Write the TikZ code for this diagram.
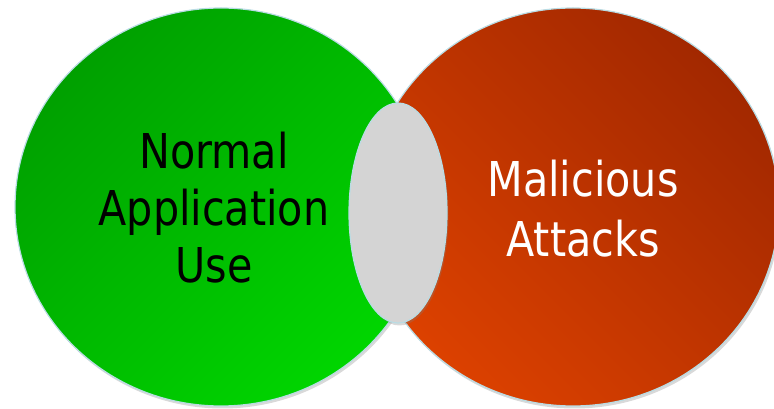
\documentclass[tikz,border=0pt]{standalone}
\usepackage{fontspec}
\setmainfont[FakeStretch=0.86]{DejaVu Sans}
\usetikzlibrary{shapes,shadows}

\definecolor{rim}{HTML}{B9DCE4}
\definecolor{greenDark}{HTML}{00A000}
\definecolor{greenLight}{HTML}{00D600}
\definecolor{redDark}{HTML}{A22800}
\definecolor{redLight}{HTML}{DC4100}
\definecolor{overlapGray}{HTML}{D4D4D4}

\tikzset{
  blob/.style={shape=ellipse,draw=rim,line width=1.2pt,inner sep=0pt,
    drop shadow={opacity=0.3,shadow xshift=1.5pt,shadow yshift=-2.5pt}},
  bigtext/.style={align=center,anchor=base,font=\fontsize{48}{57}\selectfont},
}

\begin{document}
\begin{tikzpicture}[x=1pt,y=1pt]
\useasboundingbox (0,0) rectangle (774,409);
\clip (0,0) rectangle (774,409);

% the two sets
\node[blob,minimum width=412pt,minimum height=398pt,top color=greenDark,bottom color=greenLight,shading angle=45] (normal) at (221,202) {};
\node[blob,minimum width=412pt,minimum height=398pt,top color=redDark,bottom color=redLight,shading angle=-45] (malicious) at (573,202) {};
% where they meet
\node[blob,minimum width=98pt,minimum height=220pt,fill=overlapGray] (overlap) at (398,196) {};

\node[bigtext,text=black] (normaltext) at (214,126) {Normal\\Application\\Use};
\node[bigtext,text=white,font=\fontsize{48}{60}\selectfont] (malicioustext) at (583,152) {Malicious\\Attacks};
\end{tikzpicture}
\end{document}
